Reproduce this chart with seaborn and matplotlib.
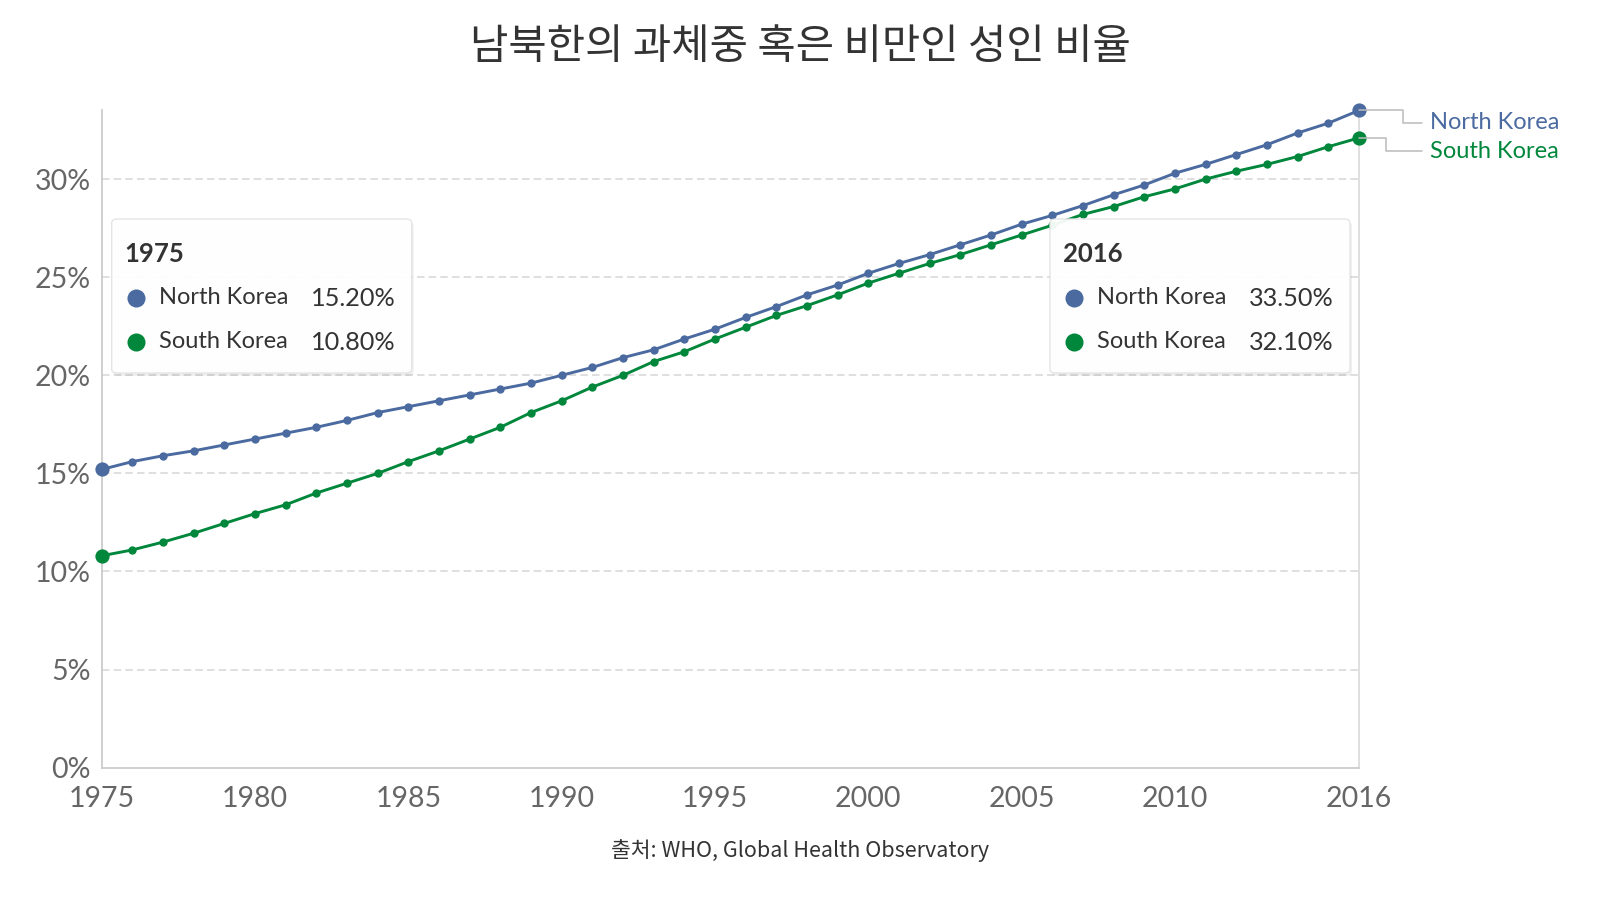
import numpy as np
import pandas as pd
import matplotlib
matplotlib.use("Agg")
import matplotlib.pyplot as plt
from matplotlib.patches import FancyBboxPatch
from matplotlib.lines import Line2D
import seaborn as sns

years = list(range(1975, 2017))
north_korea = [15.2, 15.6, 15.9, 16.15, 16.45, 16.75, 17.05, 17.35, 17.7, 18.1,
               18.4, 18.7, 19.0, 19.3, 19.6, 20.0, 20.4, 20.9, 21.3, 21.85,
               22.35, 22.95, 23.5, 24.1, 24.6, 25.2, 25.7, 26.15, 26.65, 27.15,
               27.7, 28.15, 28.65, 29.2, 29.7, 30.3, 30.75, 31.25, 31.75, 32.35,
               32.85, 33.5]
south_korea = [10.8, 11.1, 11.5, 11.95, 12.45, 12.95, 13.4, 14.0, 14.5, 15.0,
               15.6, 16.15, 16.75, 17.35, 18.1, 18.7, 19.4, 20.0, 20.7, 21.2,
               21.85, 22.45, 23.05, 23.55, 24.1, 24.7, 25.2, 25.7, 26.15, 26.65,
               27.15, 27.65, 28.2, 28.6, 29.1, 29.5, 30.0, 30.4, 30.75, 31.15,
               31.65, 32.1]
series_names = ["North Korea", "South Korea"]
colors = {"North Korea": "#4a6aa0", "South Korea": "#00873c"}
x_ticks = [1975, 1980, 1985, 1990, 1995, 2000, 2005, 2010, 2016]
y_ticks = [0, 5, 10, 15, 20, 25, 30]
title = "남북한의 과체중 혹은 비만인 성인 비율"
source = "출처: WHO, Global Health Observatory"

df = pd.DataFrame({
    "year": years * 2,
    "rate": north_korea + south_korea,
    "country": ["North Korea"] * len(years) + ["South Korea"] * len(years),
})

sns.set_theme(style="white")
plt.rcParams["font.family"] = ["Lato", "Noto Sans CJK KR", "DejaVu Sans"]

W, H = 1600, 900
fig = plt.figure(figsize=(16, 9), dpi=100)
ax = fig.add_axes([101.7 / W, 1 - 767.7 / H, (1359 - 101.7) / W, (767.7 - 110.4) / H])


def fx(px):
    return px / W


def fy(py):
    return 1 - py / H


# grid
for t in y_ticks[1:]:
    ax.axhline(t, color="#d9d9d9", lw=1.2, dashes=(4.5, 2.5), zorder=0)
ax.axvline(2016, color="#dcdcdc", lw=1.3, zorder=0.5)

sns.lineplot(data=df, x="year", y="rate", hue="country", palette=colors,
             marker="o", markersize=6, markeredgewidth=0, linewidth=2.1,
             legend=False, ax=ax, zorder=3)
for line in ax.lines:
    line.set_clip_on(False)

# larger endpoint markers
for name, vals in zip(series_names, [north_korea, south_korea]):
    ax.scatter([years[0], years[-1]], [vals[0], vals[-1]], s=105,
               color=colors[name], linewidths=0, zorder=4, clip_on=False)

ax.set_xlim(1975, 2016)
ax.set_ylim(0, 33.5)
ax.set_xticks(x_ticks)
ax.set_xticklabels([str(t) for t in x_ticks])
ax.set_yticks(y_ticks)
ax.set_yticklabels([f"{t}%" for t in y_ticks])
ax.set_xlabel("")
ax.set_ylabel("")
ax.tick_params(axis="x", length=5, width=1.2, color="#cccccc", pad=8,
               labelsize=20.5, labelcolor="#666666")
ax.tick_params(axis="y", length=0, pad=8, labelsize=20.5, labelcolor="#666666")
for side in ["top", "right"]:
    ax.spines[side].set_visible(False)
for side in ["left", "bottom"]:
    ax.spines[side].set_color("#cccccc")
    ax.spines[side].set_linewidth(1.3)

# end labels with elbow connectors
fig.canvas.draw()
label_y = {"North Korea": 122.5, "South Korea": 151}
elbow_x = {"North Korea": 1403, "South Korea": 1386}
for name, vals in zip(series_names, [north_korea, south_korea]):
    x0, y0 = ax.transData.transform((years[-1], vals[-1]))
    y0 = H - y0
    xs = [x0, elbow_x[name], elbow_x[name], 1422]
    ys = [y0, y0, label_y[name], label_y[name]]
    fig.add_artist(Line2D([fx(v) for v in xs], [fy(v) for v in ys],
                          transform=fig.transFigure, color="#bbbbbb", lw=1.1,
                          zorder=2))
    fig.text(fx(1430), fy(label_y[name]), name, color=colors[name],
             fontsize=17, va="center", ha="left")


# tooltips
def tooltip(idx, left):
    top, bottom, right = 219, 373, left + 300
    shadow = FancyBboxPatch((fx(left + 2), fy(bottom + 3)), fx(right - left), fy(top) - fy(bottom),
                            boxstyle="round,pad=0,rounding_size=0.004",
                            transform=fig.transFigure, facecolor="#000000",
                            edgecolor="none", alpha=0.06, zorder=5)
    box = FancyBboxPatch((fx(left), fy(bottom)), fx(right - left), fy(top) - fy(bottom),
                         boxstyle="round,pad=0,rounding_size=0.004",
                         transform=fig.transFigure, facecolor="white",
                         edgecolor="#e3e3e3", lw=1.0, alpha=0.94, zorder=6)
    fig.add_artist(shadow)
    fig.add_artist(box)
    fig.text(fx(left + 13), fy(254), str(years[idx]), fontsize=18.5,
             fontweight="bold", color="#333333", va="center", ha="left", zorder=7)
    for row_y, name, vals in zip([298, 342], series_names, [north_korea, south_korea]):
        fig.add_artist(Line2D([fx(left + 24)], [fy(row_y)], marker="o",
                              markersize=13, color=colors[name], mew=0,
                              transform=fig.transFigure, zorder=7))
        fig.text(fx(left + 47), fy(row_y), name, fontsize=17, color="#333333",
                 va="center", ha="left", zorder=7)
        fig.text(fx(right - 16), fy(row_y), f"{vals[idx]:.2f}%", fontsize=18.2,
                 color="#333333", va="center", ha="right", zorder=7)


tooltip(0, 111.7)
tooltip(len(years) - 1, 1050)

fig.text(0.5, fy(48), title, family=["Noto Sans CJK KR", "DejaVu Sans"],
         fontsize=30, color="#333333", ha="center", va="center")
fig.text(0.5, fy(851), source, family=["Noto Sans CJK KR", "DejaVu Sans"],
         fontsize=15.5, color="#333333", ha="center", va="center")

fig.savefig("out.png", dpi=100, facecolor="white")
